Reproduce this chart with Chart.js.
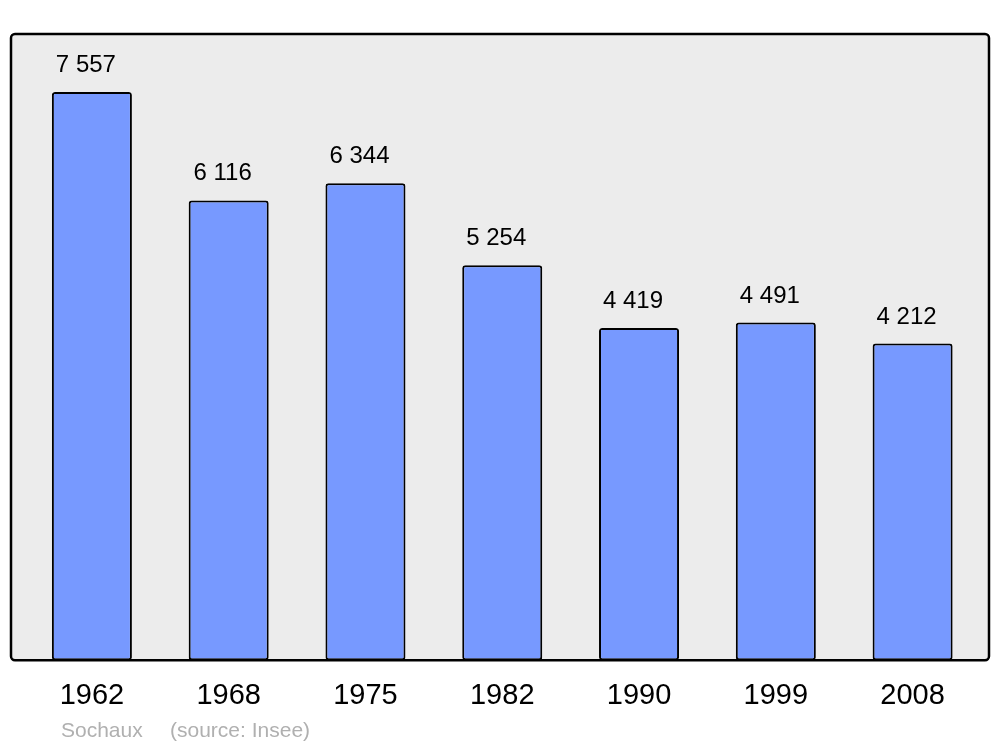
<!DOCTYPE html>
<html>
<head>
<meta charset="utf-8">
<script src="https://cdn.jsdelivr.net/npm/chart.js@4.4.1/dist/chart.umd.min.js"></script>
<style>
  html, body { margin: 0; padding: 0; background: #ffffff; }
  #wrap { width: 1000px; height: 747px; }
</style>
</head>
<body>
<div id="wrap"><canvas id="popChart" width="1000" height="747"></canvas></div>
<script>
// population of Sochaux by census year
const years = ['1962', '1968', '1975', '1982', '1990', '1999', '2008'];
const population = [7557, 6116, 6344, 5254, 4419, 4491, 4212];
const yMax = 8330;

const commune = 'Sochaux';
const source = '(source: Insee)';

// format 7557 -> "7 557"
function fmt(v) {
  return String(v).replace(/\B(?=(\d{3})+(?!\d))/g, ' ');
}

// grey panel behind the bars
const panelPlugin = {
  id: 'panel',
  beforeDraw(chart) {
    const { ctx, chartArea } = chart;
    const x0 = chartArea.left - 12.5;
    const x1 = chartArea.right + 8;
    ctx.save();
    ctx.beginPath();
    ctx.roundRect(x0, chartArea.top, x1 - x0, chartArea.bottom - chartArea.top, 4);
    ctx.fillStyle = '#ececec';
    ctx.fill();
    ctx.lineWidth = 2.5;
    ctx.strokeStyle = '#000000';
    ctx.stroke();
    ctx.restore();
  }
};

// value labels above bars + footer text
const labelPlugin = {
  id: 'valueLabels',
  afterDatasetsDraw(chart) {
    const { ctx } = chart;
    const meta = chart.getDatasetMeta(0);
    ctx.save();
    ctx.font = '24px "Liberation Sans", Arial, sans-serif';
    ctx.fillStyle = '#000000';
    ctx.textAlign = 'center';
    ctx.textBaseline = 'alphabetic';
    meta.data.forEach((bar, i) => {
      ctx.fillText(fmt(population[i]), bar.x - 6, bar.y - 20);
    });

    ctx.font = '21px "Liberation Sans", Arial, sans-serif';
    ctx.fillStyle = '#b0b0b0';
    ctx.textAlign = 'left';
    ctx.fillText(commune, 61, 737);
    ctx.fillText(source, 170, 737);
    ctx.restore();
  }
};

new Chart(document.getElementById('popChart'), {
  type: 'bar',
  data: {
    labels: years,
    datasets: [{
      data: population,
      backgroundColor: '#7799ff',
      borderColor: '#000000',
      borderWidth: 2,
      borderRadius: 3,
      borderSkipped: false,
      categoryPercentage: 0.585,
      barPercentage: 1.0
    }]
  },
  options: {
    responsive: false,
    animation: false,
    layout: {
      padding: { left: 23.5, right: 19, top: 34, bottom: 16 }
    },
    plugins: {
      legend: { display: false },
      tooltip: { enabled: false }
    },
    scales: {
      x: {
        grid: { display: false, drawTicks: false },
        border: { display: false },
        ticks: {
          color: '#000000',
          padding: 18,
          font: { size: 29, family: '"Liberation Sans", Arial, sans-serif' }
        }
      },
      y: {
        display: false,
        min: 0,
        max: yMax
      }
    }
  },
  plugins: [panelPlugin, labelPlugin]
});
</script>
</body>
</html>
